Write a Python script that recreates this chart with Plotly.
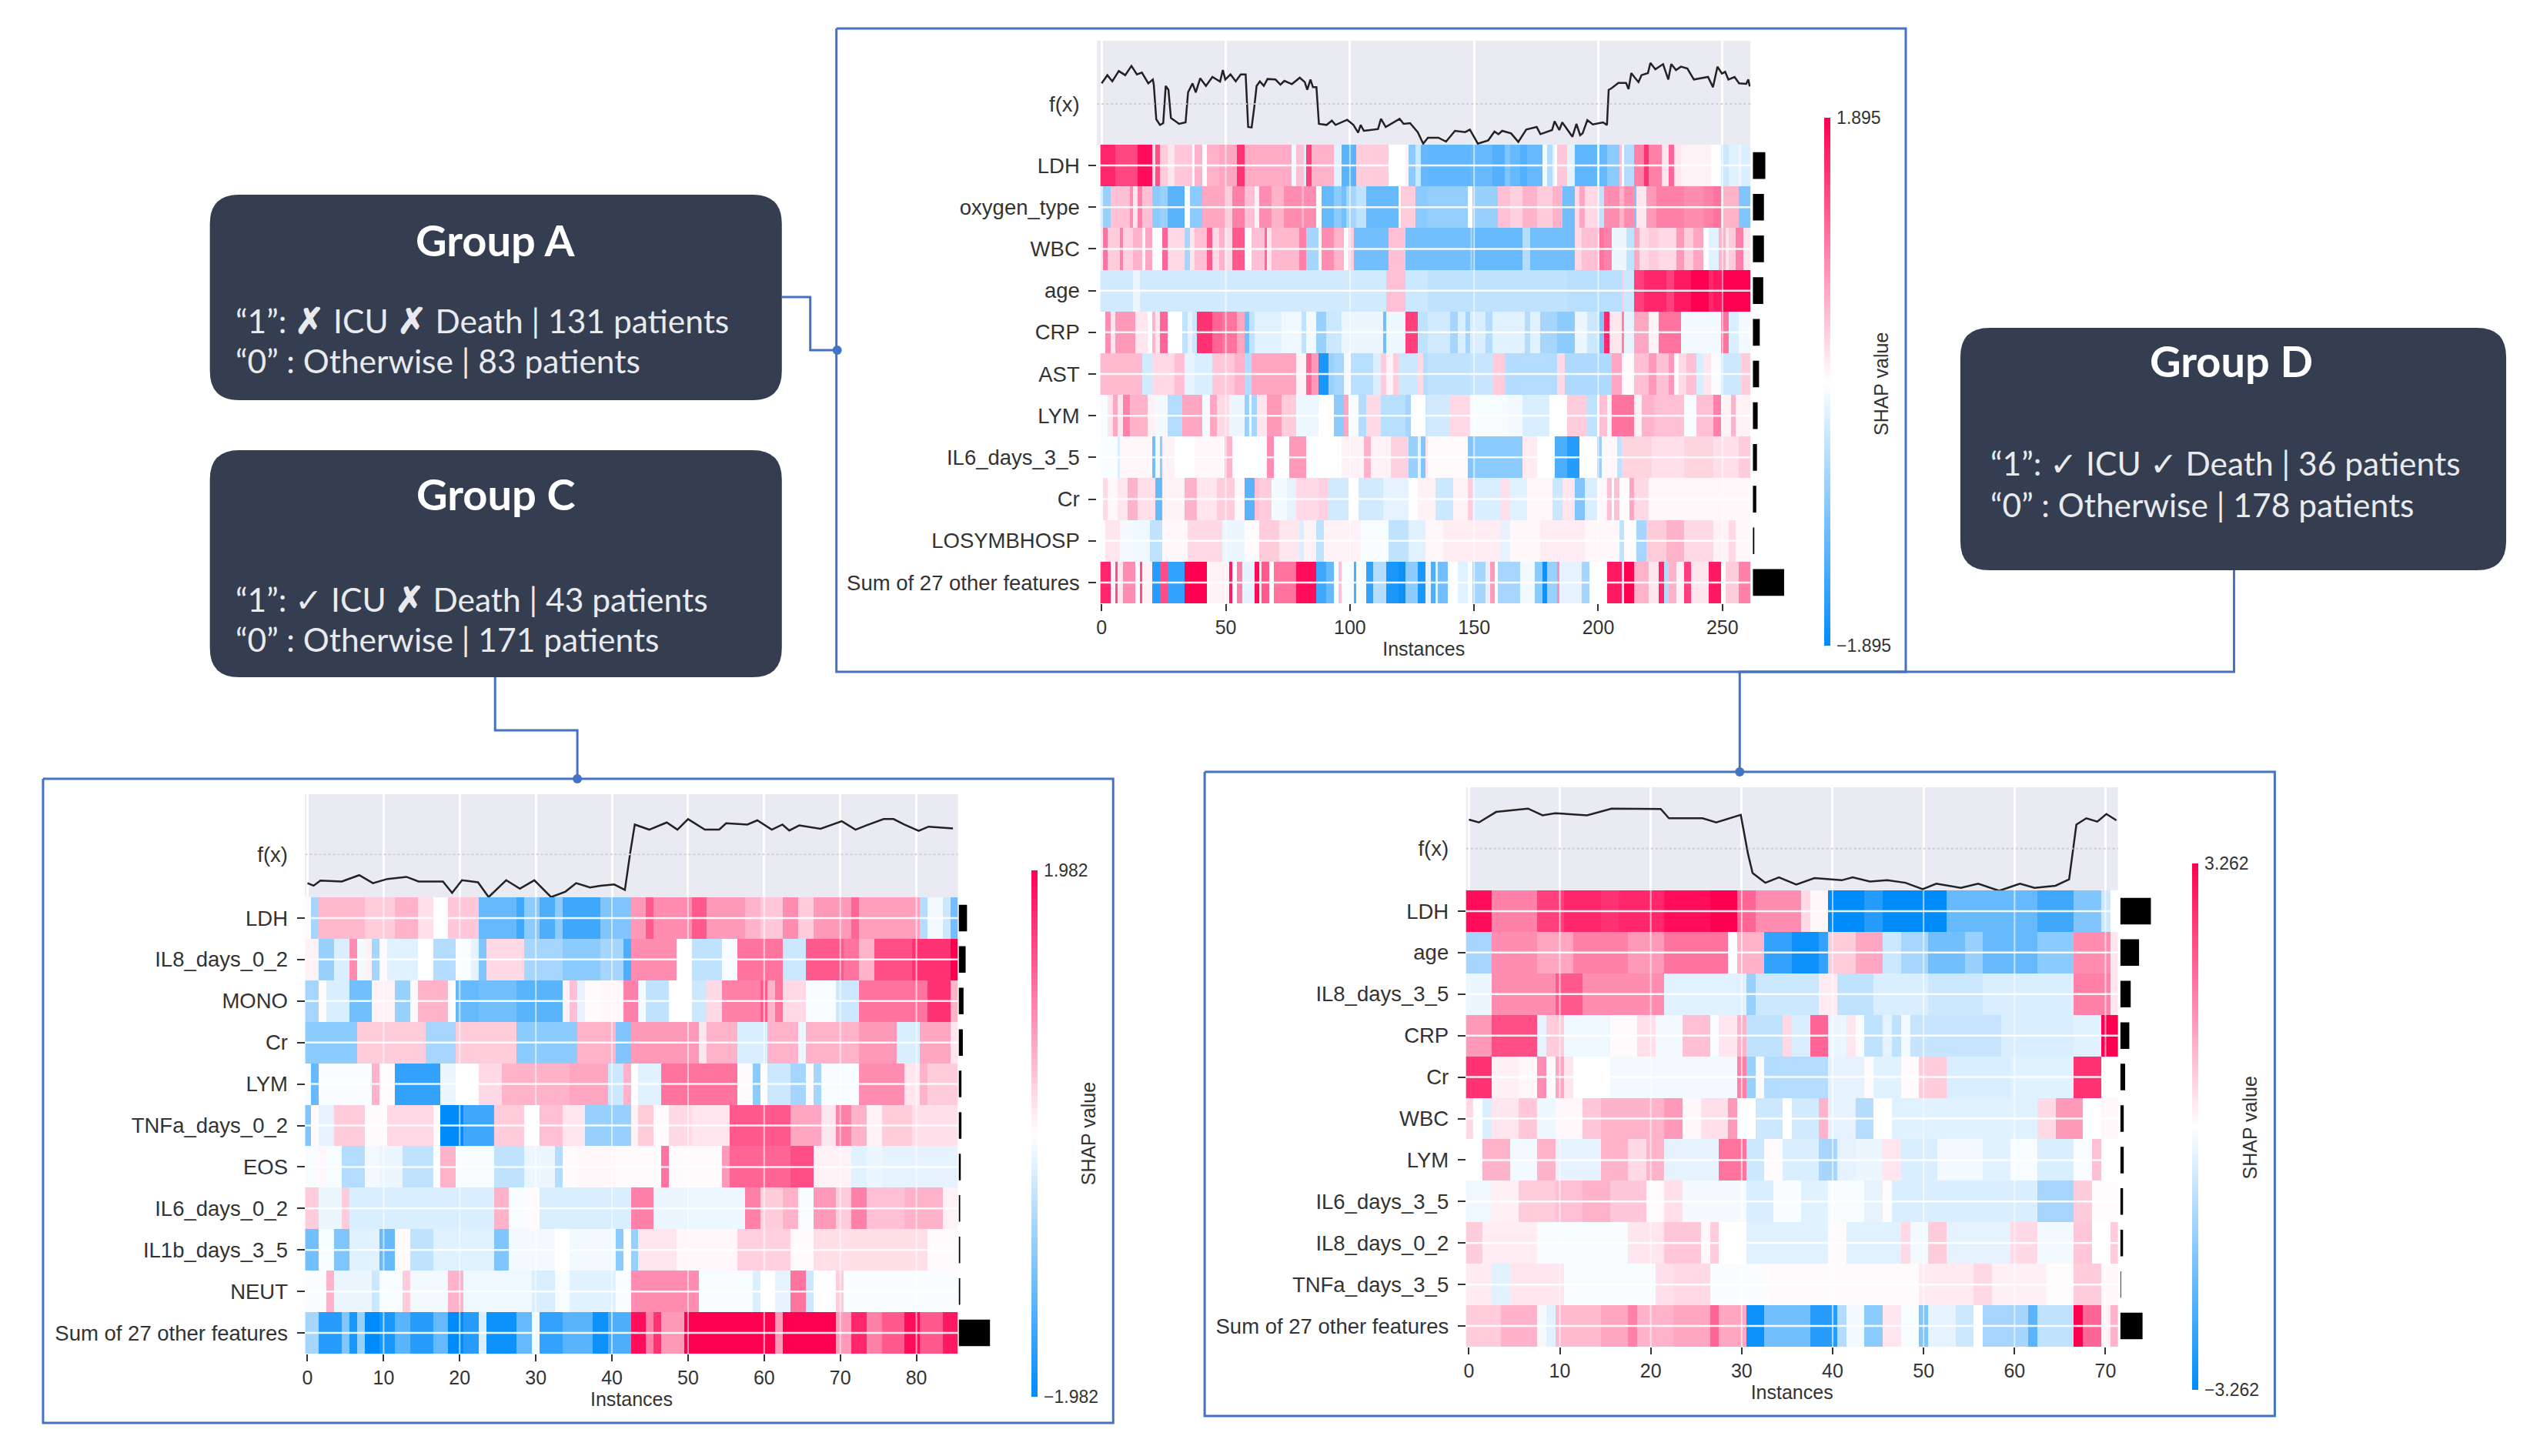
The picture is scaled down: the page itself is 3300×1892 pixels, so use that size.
import plotly.graph_objects as go

# ---------- Group A (runs: end instance, value as share of the panel's maximum) ----------
A_VMAX = 1.895
A_N = 262
A_FEATURES = ["LDH","oxygen_type","WBC","age","CRP","AST","LYM","IL6_days_3_5","Cr","LOSYMBHOSP","Sum of 27 other features"]
A_BARS = [18,16,16,15,10,9,7,6,5,2,45]
A_LDH = [(6,.85),(15,.72),(21,.95),(22,.15),(24,.7),(27,.2),(30,.1),(37,.22),(38,0),(41,.3),(43,0),(48,.3),(55,.35),(58,.8),(77,.33),(79,-.05),(82,.25),(83,-.15),(85,.75),(94,.3),(97,-.12),(100,-.65),(103,-.65),(116,.2),(123,0),(124,.05),(127,-.45),(129,-.2),(132,-.6),(149,-.62),(158,-.6),(163,-.68),(165,-.5),(169,-.6),(172,-.68),(178,-.6),(180,-.05),(182,-.3),(183,-.1),(184,0),(188,.22),(191,-.1),(200,-.62),(201,-.1),(204,-.6),(209,-.45),(210,.25),(211,0),(215,-.3),(219,.5),(221,.8),(226,.5),(229,.1),(231,.6),(234,.1),(239,.05),(246,.05),(250,0),(253,-.2),(257,-.12),(258,.05),(262,-.15)]
A_OXY = [(1,-.15),(4,-.4),(12,.25),(13,.45),(15,.1),(17,.5),(21,.25),(24,-.45),(27,-.4),(34,-.65),(36,0),(41,-.45),(51,.35),(53,.2),(58,.5),(62,.25),(64,.05),(69,.45),(74,.3),(81,.45),(82,.3),(87,.45),(89,0),(94,-.6),(97,-.45),(99,-.55),(103,-.35),(107,-.25),(120,-.6),(121,.05),(127,.2),(132,-.45),(148,-.42),(150,0),(160,-.4),(165,.25),(170,.18),(176,.3),(182,.2),(186,.3),(191,-.55),(193,.15),(195,.35),(201,.15),(203,-.25),(209,.45),(211,.3),(215,.45),(216,-.5),(220,.1),(224,.4),(228,.5),(235,.5),(243,.45),(247,.5),(250,.55),(251,.1),(257,.3),(262,-.5)]
A_WBC = [(1,.1),(3,.55),(8,.2),(9,.5),(13,.18),(17,.3),(18,.05),(21,.35),(25,0),(27,.6),(34,.15),(36,-.35),(38,.1),(43,.25),(45,.65),(48,.15),(50,.3),(53,.15),(58,.65),(61,0),(66,.25),(67,.6),(69,.1),(80,.28),(83,.5),(88,-.35),(89,.05),(94,.45),(98,.3),(100,0),(102,.2),(116,-.55),(123,.25),(149,-.55),(150,-.4),(170,-.6),(173,-.3),(191,-.55),(194,.15),(201,.25),(203,.55),(206,.5),(212,-.08),(215,-.25),(217,.35),(221,.15),(225,.2),(232,.15),(235,.4),(239,.2),(243,.35),(245,0),(249,-.12),(252,.3),(253,.1),(256,.2),(259,.5),(262,.1)]
A_AGE = [(13,-.18),(16,-.08),(115,-.18),(123,.25),(132,-.2),(188,-.25),(210,-.28),(211,.2),(215,-.2),(219,.75),(228,.85),(231,.75),(238,.9),(245,1),(247,.85),(250,.9),(262,1)]
A_CRP = [(2,0),(4,.45),(6,.1),(14,.4),(19,.1),(21,0),(22,.3),(24,.1),(27,.6),(33,0),(35,-.25),(37,-.1),(39,-.2),(45,.8),(49,.6),(55,.55),(58,.35),(60,-.55),(62,-.25),(73,-.12),(81,-.06),(83,-.25),(87,-.05),(88,-.4),(91,-.4),(97,-.2),(114,-.08),(115,-.55),(123,-.07),(128,.75),(132,-.25),(141,-.18),(144,-.35),(147,-.15),(149,-.35),(155,-.15),(158,-.3),(171,-.12),(173,-.3),(177,-.12),(184,-.35),(191,-.45),(196,-.08),(201,-.2),(203,-.5),(205,.85),(210,.1),(211,.5),(215,-.1),(221,.35),(225,.05),(234,.55),(250,-.05),(253,.55),(257,-.15),(262,-.05)]
A_AST = [(17,.27),(21,-.18),(30,.15),(34,.25),(38,-.1),(45,-.15),(54,.22),(58,.3),(61,-.3),(69,.35),(79,.35),(83,.05),(85,.6),(88,.4),(92,-.9),(94,-.4),(98,-.35),(101,-.05),(110,-.28),(113,-.15),(115,.2),(118,.05),(120,.2),(128,-.2),(130,.15),(132,-.3),(149,-.25),(158,-.22),(163,.2),(184,-.3),(187,.15),(206,-.32),(210,.35),(215,.02),(221,.25),(224,.4),(229,.25),(231,.4),(233,.02),(236,.15),(240,.25),(243,-.15),(246,.1),(250,-.02),(258,-.2),(262,.2)]
A_LYM = [(3,-.03),(5,.1),(7,.35),(9,.1),(12,.5),(19,.3),(22,.05),(27,-.05),(33,-.3),(41,.35),(44,-.05),(47,.35),(52,.15),(58,-.08),(60,-.4),(61,-.05),(63,-.35),(67,.1),(73,.4),(79,.2),(88,-.07),(94,0),(98,-.45),(100,.35),(104,-.03),(107,-.3),(113,.15),(123,-.28),(125,-.35),(131,0),(132,-.2),(141,-.18),(149,.15),(164,-.03),(170,-.05),(181,-.15),(188,0),(196,.2),(200,-.25),(201,0),(204,.25),(206,.05),(215,.55),(218,.05),(223,.3),(229,.25),(235,.25),(240,-.03),(247,.25),(250,.5),(254,.05),(256,.3),(262,.05)]
A_IL6 = [(7,-.02),(8,-.15),(21,.03),(22,-.55),(24,-.05),(25,-.45),(30,.05),(38,0),(50,.03),(53,.3),(67,0),(70,.45),(76,0),(83,.4),(97,0),(106,.05),(109,.3),(117,.05),(124,.18),(128,-.4),(129,-.1),(131,-.5),(132,.1),(148,.02),(150,-.5),(170,-.45),(176,.08),(183,0),(188,-.7),(193,-.85),(200,0),(202,-.4),(208,.03),(210,-.25),(222,.17),(235,.12),(247,.17),(257,.12),(262,.2)]
A_CR = [(1,0),(3,.15),(7,.03),(11,.1),(15,.3),(22,.12),(25,-.6),(34,.05),(39,.3),(42,.1),(47,.1),(54,.2),(58,.03),(62,-.65),(64,.25),(69,.2),(75,-.05),(79,-.1),(88,.15),(92,.18),(100,-.18),(104,0),(114,-.18),(124,-.1),(128,0),(135,.05),(142,-.2),(148,.05),(150,.2),(161,-.15),(165,.12),(172,-.12),(182,.03),(186,-.2),(191,.1),(195,-.5),(200,-.15),(204,.03),(206,.25),(207,0),(209,.25),(213,.02),(215,.35),(221,.15),(262,.03)]
A_LOS = [(2,-.02),(8,.1),(13,-.04),(20,-.06),(25,-.25),(35,.03),(42,.15),(49,.15),(58,-.08),(64,.02),(72,.2),(80,.1),(82,-.15),(87,.05),(90,-.25),(105,.05),(116,-.03),(124,-.25),(131,-.12),(138,.03),(161,.07),(165,-.1),(177,.03),(195,.07),(209,.03),(211,-.25),(216,.02),(220,-.35),(228,.2),(235,.3),(247,.15),(253,.05),(256,.15),(262,.03)]
A_SUM = [(4,.85),(6,.05),(7,.7),(9,.1),(14,.45),(16,.02),(17,.7),(21,.05),(24,-.85),(27,.7),(34,-.8),(43,1),(52,.05),(53,.9),(55,0),(57,.5),(62,-.1),(64,.95),(65,.1),(68,.65),(70,0),(79,.55),(87,.95),(91,-.75),(94,-.6),(96,-.02),(97,.25),(102,-.03),(103,-.7),(107,-.03),(110,-.8),(115,-.3),(120,-.9),(123,-.95),(128,-.45),(131,-.9),(133,-.1),(135,-.7),(136,-.1),(140,-.55),(144,0),(148,-.12),(150,-.02),(155,-.35),(157,-.1),(159,.4),(160,0),(169,-.35),(175,-.05),(178,-.45),(180,-.95),(184,-.4),(185,.45),(194,-.1),(197,-.35),(204,0),(210,.9),(211,.1),(215,1),(221,.3),(225,.1),(227,.85),(229,-.3),(232,.3),(235,.05),(238,.75),(245,.1),(250,.9),(252,.02),(257,.2),(262,.5)]
A_FX_X = [0,2.3,4.3,6.9,9.5,12,14.2,16.2,18.8,20.6,21,22,23.5,24.8,25.8,26.9,27.9,31.2,33.8,34.8,36.6,37.9,39.7,42,44.6,47.7,48.8,49.8,51.9,54,56,58,59,60.4,61.5,62.4,63.7,65.3,66.8,70,72,73.6,76.6,79.8,81.8,82.8,84.1,85.1,86.5,87.5,90.6,92.7,94.2,96.8,98.9,101.4,103.3,104.3,105.6,111.3,112.5,114.4,120,121.6,124.2,127.3,129.5,131.4,133,135.6,138.7,142.3,146.4,148.3,151.5,155.7,158.2,159.8,161.3,164.9,167.8,171,175.2,176.7,181.4,182.4,184.3,185.5,189.6,191.2,192.7,193.7,195.6,197.8,201.9,203.5,204.2,205.2,208.1,211.2,212.2,213.3,214.5,216.2,217.4,220,221,223,226.1,228.2,229.4,231.3,233.3,235.9,238.5,244.2,246.2,248,249.8,251.1,252.4,254.9,256.7,259.6,260.4,261]
A_FX_Y = [.8,1.12,.88,1.28,1.12,1.48,1.15,1.22,.8,.95,.75,-.6,-.82,-.75,.7,.55,-.55,-.78,-.72,.45,.8,.45,1.0,.7,1.05,.87,1.32,.95,1.15,.88,1.15,1.15,-.9,-.92,-.1,.7,.88,.7,.97,.95,.75,.9,.77,1.02,.85,.55,.95,.65,.65,-.78,-.82,-.65,-.82,-.72,-.62,-.82,-1.12,-.82,-1.05,-.98,-.58,-.9,-.58,-.78,-.75,-1.1,-1.55,-1.32,-1.32,-1.32,-1.47,-1.05,-1.1,-1.0,-1.55,-1.42,-1.08,-1.18,-1.05,-1.15,-1.48,-1.0,-.9,-1.18,-1.02,-.68,-1.02,-.72,-1.28,-.78,-1.22,-1.15,-.63,-.8,-.72,-.82,.55,.6,.82,.82,.58,1.2,1.05,.85,1.12,1.2,1.6,1.35,1.55,.95,1.55,1.32,1.45,1.38,.95,1.05,.65,1.45,1.18,1.25,.95,1.05,.8,.78,.95,.68]

# ---------- Group C ----------
C_VMAX = 1.982
C_N = 86
C_FEATURES = ["LDH","IL8_days_0_2","MONO","Cr","LYM","TNFa_days_0_2","EOS","IL6_days_0_2","IL1b_days_3_5","NEUT","Sum of 27 other features"]
C_BARS = [12,10,7,6,4,4,3,2,2,2,45]
C_LDH = [(1,.02),(2,-.35),(8,.28),(12,.2),(15,.3),(17,.12),(19,0),(23,.22),(28,-.6),(29,-.75),(31,-.45),(33,-.7),(34,-.45),(39,-.75),(43,-.5),(45,.4),(46,.65),(51,.45),(53,.65),(58,.4),(60,.3),(63,.22),(65,.45),(67,.2),(72,.4),(73,.6),(81,.38),(82,-.3),(84,-.05),(85,-.2),(86,-.55)]
C_IL8 = [(2,.05),(4,-.4),(6,-.15),(7,.45),(8,-.05),(9,.05),(10,-.35),(11,.02),(15,-.12),(17,0),(20,-.3),(22,-.02),(23,-.1),(24,-.5),(29,.15),(34,-.35),(39,-.45),(42,-.35),(43,-.7),(49,.45),(51,0),(55,-.25),(57,-.03),(63,.55),(66,-.2),(71,.65),(73,.55),(75,.3),(80,.7),(85,.8),(86,1)]
C_MONO = [(2,-.35),(3,.02),(6,-.15),(9,-.55),(12,.05),(14,-.4),(15,.03),(19,.3),(20,.02),(23,-.6),(28,-.55),(34,-.65),(35,.05),(36,.25),(37,-.1),(39,.02),(42,.03),(44,.5),(45,-.05),(48,-.25),(51,0),(53,-.2),(55,.15),(60,.5),(61,.65),(62,.3),(63,.55),(66,.15),(70,-.02),(73,-.2),(82,.55),(85,.8),(86,.3)]
C_CR = [(7,-.45),(16,.2),(20,-.35),(28,.2),(36,-.45),(41,.3),(43,-.5),(52,.4),(53,.1),(57,.3),(61,-.15),(65,.3),(66,-.08),(73,.3),(78,.4),(81,-.15),(85,.35),(86,.1)]
C_LYM = [(1,-.03),(2,-.6),(9,-.02),(10,.3),(12,.02),(18,-.8),(20,-.08),(23,0),(26,.15),(35,.3),(40,.35),(42,-.2),(43,.3),(44,0),(47,-.12),(57,.55),(59,.02),(60,-.45),(61,0),(64,-.2),(66,-.35),(67,.02),(68,-.35),(73,-.03),(79,.45),(81,.1),(82,.3),(86,.2)]
C_TNF = [(1,-.5),(2,.02),(4,-.1),(8,.2),(11,.02),(17,.15),(18,.02),(21,-1),(25,-.75),(29,.2),(31,0),(34,.25),(37,.1),(43,-.4),(44,.05),(46,.2),(48,.02),(51,.15),(56,.1),(64,.65),(68,.35),(70,.1),(72,.5),(74,.3),(76,.05),(80,.2),(86,.12)]
C_EOS = [(2,-.03),(3,.03),(5,-.03),(8,-.3),(10,-.05),(13,-.08),(17,-.25),(18,0),(20,.3),(25,-.03),(29,-.25),(33,-.08),(34,-.3),(36,.02),(41,.03),(47,.02),(48,.55),(55,.02),(56,.4),(64,.6),(67,.7),(72,.05),(74,-.12),(76,-.08),(86,-.1)]
C_IL6 = [(2,.2),(5,-.08),(6,.2),(25,-.15),(27,.3),(29,-.03),(31,.02),(43,-.15),(46,.5),(51,-.08),(58,-.07),(60,.5),(63,.2),(65,.3),(67,-.03),(70,.4),(72,.2),(74,.5),(79,.25),(84,.3),(86,.05)]
C_IL1 = [(2,-.55),(4,-.03),(6,-.5),(10,-.12),(12,-.6),(14,.02),(17,-.25),(25,-.12),(27,-.5),(33,-.05),(35,0),(41,-.05),(42,-.45),(43,0),(44,-.4),(49,.1),(57,.03),(64,.18),(67,.02),(82,.13),(86,.02)]
C_NEUT = [(3,-.02),(4,.3),(9,-.08),(10,-.2),(13,-.03),(14,.2),(19,-.05),(21,.3),(30,-.06),(33,-.15),(35,-.03),(41,-.12),(43,-.02),(52,.45),(59,-.03),(60,-.15),(62,0),(64,-.1),(66,.55),(67,-.2),(70,0),(71,.2),(86,-.02)]
C_SUM = [(2,-.35),(5,-.85),(6,-.5),(7,-.9),(8,-.4),(10,-1),(12,-.9),(14,-.65),(17,-.85),(19,-.6),(21,-1),(23,-.85),(24,-.15),(28,-.95),(30,-.6),(31,-.05),(34,-.8),(38,-.65),(40,-.95),(43,-.7),(45,.95),(46,.5),(47,.8),(50,.4),(62,1),(63,.4),(70,1),(72,.4),(74,.85),(76,.5),(79,.65),(81,.95),(84,.65),(86,.9)]
C_FX_X = [0,.8,1.7,4.5,6.8,8.6,10.5,13,14.6,17.8,19,20.3,22.4,23.8,26.1,27.9,29.8,32,33.9,35.3,37.1,38.5,40.3,41.7,42.4,43,44.9,47.2,48.6,50,52.2,54.1,55,57.8,59.1,61,62.4,63.3,64.6,67.4,70.2,72,73.4,75.7,77,78.4,80.3,81.6,84.8]
C_FX_Y = [-1.36,-1.48,-1.24,-1.28,-.98,-1.36,-1.16,-1.06,-1.28,-1.28,-1.82,-1.22,-1.32,-2.02,-1.22,-1.62,-1.22,-2.02,-1.76,-1.36,-1.56,-1.48,-1.42,-1.68,.08,1.42,1.18,1.52,1.18,1.68,1.18,1.18,1.48,1.42,1.62,1.18,1.42,1.14,1.38,1.22,1.58,1.18,1.38,1.68,1.68,1.42,1.12,1.32,1.24]

# ---------- Group D ----------
D_VMAX = 3.262
D_N = 72
D_FEATURES = ["LDH","age","IL8_days_3_5","CRP","Cr","WBC","LYM","IL6_days_3_5","IL8_days_0_2","TNFa_days_3_5","Sum of 27 other features"]
D_BARS = [44,27,15,13,7,5,5,4,4,1,32]
D_LDH = [(3,.95),(8,.5),(11,.75),(15,.85),(17,.8),(22,.85),(27,.95),(30,1),(32,.6),(37,.45),(38,.15),(40,.03),(44,-1),(46,-.85),(53,-1),(63,-.6),(67,-.75),(70,-.5),(71,-.2),(72,0)]
D_AGE = [(3,-.35),(8,.45),(12,.35),(18,.5),(22,.4),(29,.55),(30,0),(33,.3),(36,-.8),(39,-.95),(40,-.8),(43,.2),(46,.35),(48,-.2),(51,-.35),(55,-.55),(57,-.4),(63,-.6),(67,-.45),(71,.45),(72,.1)]
D_IL835 = [(3,-.08),(10,.45),(13,.65),(22,.45),(31,-.12),(32,-.4),(39,-.2),(41,.08),(45,-.25),(51,-.15),(57,-.2),(67,-.15),(71,.5),(72,.1)]
D_CRP = [(3,.4),(8,.7),(9,-.1),(11,.2),(16,-.06),(19,.02),(21,.12),(24,-.05),(27,.25),(28,-.02),(30,.1),(31,.3),(35,-.25),(36,.15),(38,-.15),(40,.6),(42,-.08),(43,.1),(44,-.03),(46,-.25),(47,-.1),(48,-.25),(49,-.05),(59,-.22),(67,-.15),(70,-.12),(72,1)]
D_CR = [(3,.8),(6,.06),(8,.03),(9,.45),(10,.02),(11,.35),(12,.1),(16,0),(30,-.05),(31,.5),(32,-.4),(33,.02),(40,-.3),(44,-.1),(45,.02),(48,-.12),(50,.02),(53,.2),(60,-.15),(67,-.12),(70,.8),(72,0)]
D_WBC = [(1,.15),(2,0),(3,-.15),(6,.1),(8,.22),(10,-.07),(13,.03),(15,.22),(22,.3),(24,.4),(26,.03),(29,.12),(30,.4),(32,0),(35,-.2),(36,0),(39,-.18),(40,.3),(43,-.1),(45,-.3),(47,0),(63,-.12),(65,.15),(68,.4),(70,0),(72,.03)]
D_LYM = [(2,0),(5,.3),(8,-.05),(10,.3),(15,-.1),(18,.3),(20,.15),(22,.3),(24,-.1),(28,-.1),(31,.55),(33,-.2),(35,.02),(39,-.15),(41,-.35),(43,-.1),(46,-.08),(48,.1),(52,-.15),(57,-.05),(60,-.12),(63,-.03),(67,-.15),(69,-.02),(70,.25),(72,0)]
D_IL635 = [(3,-.06),(6,.06),(10,.2),(13,.25),(16,.3),(20,.22),(22,.02),(24,.12),(31,-.04),(34,-.15),(37,-.02),(40,-.12),(44,-.03),(46,-.1),(47,.02),(63,-.15),(67,-.35),(69,.2),(72,.01)]
D_IL802 = [(2,.2),(8,.07),(18,-.03),(22,.1),(26,.22),(27,.03),(28,.2),(31,0),(40,-.12),(42,.02),(48,-.12),(49,.15),(51,-.05),(53,.2),(60,-.1),(63,.15),(67,-.05),(69,.22),(71,0),(72,.2)]
D_TNF = [(3,.08),(5,-.12),(11,.1),(21,-.03),(23,.12),(27,.15),(33,-.02),(50,.02),(56,.08),(58,.15),(64,.06),(67,.01),(70,.2),(72,.03)]
D_SUM = [(4,.2),(8,.3),(9,-.04),(10,-.12),(15,.27),(18,.35),(19,.5),(23,.3),(27,.35),(28,.6),(31,.35),(33,-.95),(38,-.55),(41,-.85),(42,-.3),(44,-.05),(46,-.45),(48,.1),(50,-.03),(51,-.5),(54,-.1),(56,-.2),(57,0),(62,-.35),(63,-.65),(67,-.25),(68,1),(70,.6),(71,.05),(72,.3)]
D_FX_X = [0,1.1,3,6.5,8.1,9.5,13,15.7,21.1,22,25.7,27.2,29.9,30.7,31.2,32.6,34.1,36,38,41,42.2,44.1,46,48,49.9,51.4,54.1,56,58.3,60.6,62.2,64.5,66,66.8,67.9,69.1,70.1,71.2]
D_FX_Y = [1.38,1.24,1.74,1.9,1.58,1.68,1.58,1.9,1.88,1.44,1.44,1.24,1.6,-.26,-1.16,-1.62,-1.36,-1.7,-1.4,-1.5,-1.36,-1.56,-1.5,-1.62,-1.92,-1.66,-1.86,-1.66,-2.0,-1.66,-1.86,-1.76,-1.46,1.14,1.44,1.28,1.64,1.34]

# ---------- Text ----------
CROSS = '<span style="font-size:46px"><b>✗</b></span>'
GROUP_TEXT = [
    ("Group A", f"“1”: {CROSS} ICU {CROSS} Death | 131 patients", "“0” : Otherwise | 83 patients"),
    ("Group C", f"“1”: ✓ ICU {CROSS} Death | 43 patients", "“0” : Otherwise | 171 patients"),
    ("Group D", "“1”: ✓ ICU ✓ Death | 36 patients", "“0” : Otherwise | 178 patients"),
]

W, H = 3300, 1892
FONT = "Liberation Sans, Arial, sans-serif"
INK = "#333333"
BOX = "#343E50"
LINK = "#4472C4"
SCALE = [[0, "#008bfb"], [.5, "#ffffff"], [1, "#ff0051"]]

px = lambda x: x / W
py = lambda y: 1 - y / H

def expand(runs):
    out, start = [], 0
    for end, v in runs:
        out += [v] * (end - start)
        start = end
    return out

fig = go.Figure()
layout = {}
shapes = []
annotations = []

def panel(idx, rows, feats, bars, fx_x, fx_y, n, vmax, step, geo):
    left, right, top, mid, bottom = geo["left"], geo["right"], geo["top"], geo["mid"], geo["bottom"]
    hx, fx, bx = [(idx * 3) + k for k in (2, 3, 4)]
    xrange_ = geo["xr"]
    ticks = list(range(0, n, step))
    heat_rows = [[v * vmax for v in expand(r)] for r in rows]
    fig.add_trace(go.Heatmap(
        z=heat_rows, x=list(range(n)), y=list(range(len(rows))),
        xaxis=f"x{hx}", yaxis=f"y{hx}", colorscale=SCALE, zmin=-vmax, zmax=vmax, zsmooth=False,
        hoverinfo="skip",
        colorbar=dict(
            x=px(geo["cb"]), xanchor="left", xpad=0, ypad=0, thickness=8, thicknessmode="pixels",
            y=py((geo["cbt"] + geo["cbb"]) / 2), yanchor="middle", len=(geo["cbb"] - geo["cbt"]) / H,
            lenmode="fraction", outlinewidth=0, tickvals=[-vmax, vmax],
            ticktext=[f"−{vmax:.3f}", f"{vmax:.3f}"], ticks="outside", ticklen=4, tickcolor="rgba(0,0,0,0)",
            tickfont=dict(family=FONT, size=23, color=INK),
        ),
    ))
    fig.add_trace(go.Scatter(x=fx_x, y=fx_y, mode="lines", xaxis=f"x{fx}", yaxis=f"y{fx}",
                             line=dict(color="#222222", width=2.5), hoverinfo="skip", showlegend=False))
    fig.add_trace(go.Bar(x=bars, y=list(range(len(rows))), orientation="h", width=.64, xaxis=f"x{bx}", yaxis=f"y{bx}",
                         marker=dict(color="#000000", line=dict(width=0)), hoverinfo="skip", showlegend=False))
    common_y = dict(domain=[py(bottom), py(mid)], range=[len(rows) - .5, -.5], showgrid=False, zeroline=False)
    layout[f"xaxis{hx}"] = dict(domain=[px(left), px(right)], range=xrange_, anchor=f"y{hx}", showgrid=False, zeroline=False,
                                tickvals=ticks, ticks="outside", ticklen=9, tickwidth=2, tickcolor=INK,
                                tickfont=dict(family=FONT, size=25, color=INK),
                                title=dict(text="Instances", font=dict(family=FONT, size=25, color=INK), standoff=6))
    layout[f"yaxis{hx}"] = dict(common_y, anchor=f"x{hx}", tickvals=list(range(len(rows))), ticktext=feats,
                                ticks="outside", ticklen=10, tickwidth=2, tickcolor=INK, ticklabelstandoff=6,
                                tickfont=dict(family=FONT, size=27.5, color=INK))
    layout[f"xaxis{fx}"] = dict(domain=[px(left), px(right)], range=xrange_, anchor=f"y{fx}", tickvals=ticks, showticklabels=False,
                                ticks="", showgrid=True, gridcolor="#ffffff", gridwidth=3, zeroline=False)
    layout[f"yaxis{fx}"] = dict(domain=[py(mid), py(top)], range=geo["fxr"], anchor=f"x{fx}", tickvals=[0], ticktext=["f(x)"],
                                ticks="outside", ticklen=10, tickcolor="rgba(0,0,0,0)", showgrid=False, zeroline=False,
                                ticklabelstandoff=6, tickfont=dict(family=FONT, size=27.5, color=INK))
    layout[f"xaxis{bx}"] = dict(domain=[px(geo["bar"]), px(geo["bar"] + 60 / 1.104)], range=[0, 60], anchor=f"y{bx}", visible=False)
    layout[f"yaxis{bx}"] = dict(common_y, anchor=f"x{bx}", visible=False)
    # f(x) background, reference line and the white guide lines over the heat cells
    shapes.append(dict(type="rect", xref="paper", yref="paper", x0=px(left), x1=px(right), y0=py(mid), y1=py(top),
                       fillcolor="#EAEAF2", line=dict(width=0), layer="below"))
    shapes.append(dict(type="line", xref=f"x{fx} domain", yref=f"y{fx}", x0=0, x1=1, y0=0, y1=0,
                       line=dict(color="#CFCFCF", width=2, dash="dot")))
    for i in range(len(rows)):
        shapes.append(dict(type="line", xref=f"x{hx} domain", yref=f"y{hx}", x0=0, x1=1, y0=i, y1=i,
                           line=dict(color="rgba(255,255,255,.9)", width=2.5)))
    for t in ticks[1:]:
        shapes.append(dict(type="line", xref=f"x{hx}", yref=f"y{hx} domain", x0=t, x1=t, y0=0, y1=1,
                           line=dict(color="rgba(255,255,255,.6)", width=2)))
    annotations.append(dict(text="SHAP value", xref="paper", yref="paper", x=px(geo["shapx"]), y=py(geo["shapy"]), textangle=-90,
                            showarrow=False, xanchor="center", yanchor="middle", font=dict(family=FONT, size=25, color=INK)))

panel(0, [A_LDH,A_OXY,A_WBC,A_AGE,A_CRP,A_AST,A_LYM,A_IL6,A_CR,A_LOS,A_SUM], A_FEATURES, A_BARS, A_FX_X, A_FX_Y, A_N, A_VMAX, 50,
      dict(left=1423, right=2273, top=53, mid=188, bottom=784, xr=[-1.86, 261.3], fxr=[-1.59, 2.46], bar=2276, cb=2369, cbt=153, cbb=839, shapx=2443, shapy=499))
panel(1, [C_LDH,C_IL8,C_MONO,C_CR,C_LYM,C_TNF,C_EOS,C_IL6,C_IL1,C_NEUT,C_SUM], C_FEATURES, C_BARS, C_FX_X, C_FX_Y, C_N, C_VMAX, 10,
      dict(left=393, right=1242, top=1032, mid=1166, bottom=1759, xr=[-.3, 85.45], fxr=[-2.03, 2.86], bar=1243, cb=1338, cbt=1131, cbb=1815, shapx=1412, shapy=1473))
panel(2, [D_LDH,D_AGE,D_IL835,D_CRP,D_CR,D_WBC,D_LYM,D_IL635,D_IL802,D_TNF,D_SUM], D_FEATURES, D_BARS, D_FX_X, D_FX_Y, D_N, D_VMAX, 10,
      dict(left=1903, right=2751, top=1023, mid=1157, bottom=1750, xr=[-.31, 71.37], fxr=[-1.98, 2.91], bar=2754, cb=2847, cbt=1122, cbb=1806, shapx=2923, shapy=1465))

def polyline(points, dot=None):
    d = "M " + " L ".join(f"{px(x)},{py(y)}" for x, y in points)
    shapes.append(dict(type="path", path=d, xref="paper", yref="paper", line=dict(color=LINK, width=3)))
    if dot:
        r = 6
        shapes.append(dict(type="circle", xref="paper", yref="paper", x0=px(dot[0]-r), x1=px(dot[0]+r), y0=py(dot[1]+r), y1=py(dot[1]-r),
                           fillcolor=LINK, line=dict(width=0)))

def rounded(x0, y0, x1, y1, r=38):
    p = lambda x, y: f"{px(x)},{py(y)}"
    d = (f"M {p(x0+r,y0)} L {p(x1-r,y0)} Q {p(x1,y0)} {p(x1,y0+r)} L {p(x1,y1-r)} Q {p(x1,y1)} {p(x1-r,y1)} "
         f"L {p(x0+r,y1)} Q {p(x0,y1)} {p(x0,y1-r)} L {p(x0,y0+r)} Q {p(x0,y0)} {p(x0+r,y0)} Z")
    shapes.append(dict(type="path", path=d, xref="paper", yref="paper", fillcolor=BOX, line=dict(width=0)))

# panel frames
for x0, y0, x1, y1 in [(1084, 37, 2475, 873), (52, 1012, 1444, 1849), (1563, 1003, 2955, 1840)]:
    polyline([(x0, y0), (x1, y0), (x1, y1), (x0, y1), (x0, y0)])

# connectors
polyline([(1013, 386), (1050, 386), (1050, 455), (1085, 455)], dot=(1085, 455))
polyline([(640, 880), (640, 949), (747, 949), (747, 1012)], dot=(747, 1012))
polyline([(2902, 741), (2902, 873), (2259, 873), (2259, 1003)], dot=(2259, 1003))

# group boxes and their text
BOXES = [
    (269, 253, 1013, 520, 641, 312, 300, 415, 469),
    (269, 585, 1013, 880, 641, 642, 300, 777, 830),
    (2546, 426, 3256, 741, 2899, 468, 2583, 602, 655),
]
for (x0, y0, x1, y1, tx, ty, lx, l1, l2), (title, one, two) in zip(BOXES, GROUP_TEXT):
    rounded(x0, y0, x1, y1)
    annotations.append(dict(text=f"<b>{title}</b>", xref="paper", yref="paper", x=px(tx), y=py(ty), showarrow=False,
                            xanchor="center", yanchor="middle", font=dict(family="Lato", size=56, color="#ffffff")))
    for txt, yy in ((one, l1), (two, l2)):
        annotations.append(dict(text=txt, xref="paper", yref="paper", x=px(lx), y=py(yy), showarrow=False,
                                xanchor="left", yanchor="middle", font=dict(family="Lato", size=42.5, color="#E9EAEE")))

fig.update_layout(width=W, height=H, autosize=False, margin=dict(l=0, r=0, t=0, b=0), paper_bgcolor="#ffffff",
                  plot_bgcolor="rgba(0,0,0,0)", showlegend=False, shapes=shapes, annotations=annotations, **layout)
fig.write_html("out.html", config={"displayModeBar": False},
               post_script="document.body.style.margin='0';document.documentElement.style.overflow='hidden';")
